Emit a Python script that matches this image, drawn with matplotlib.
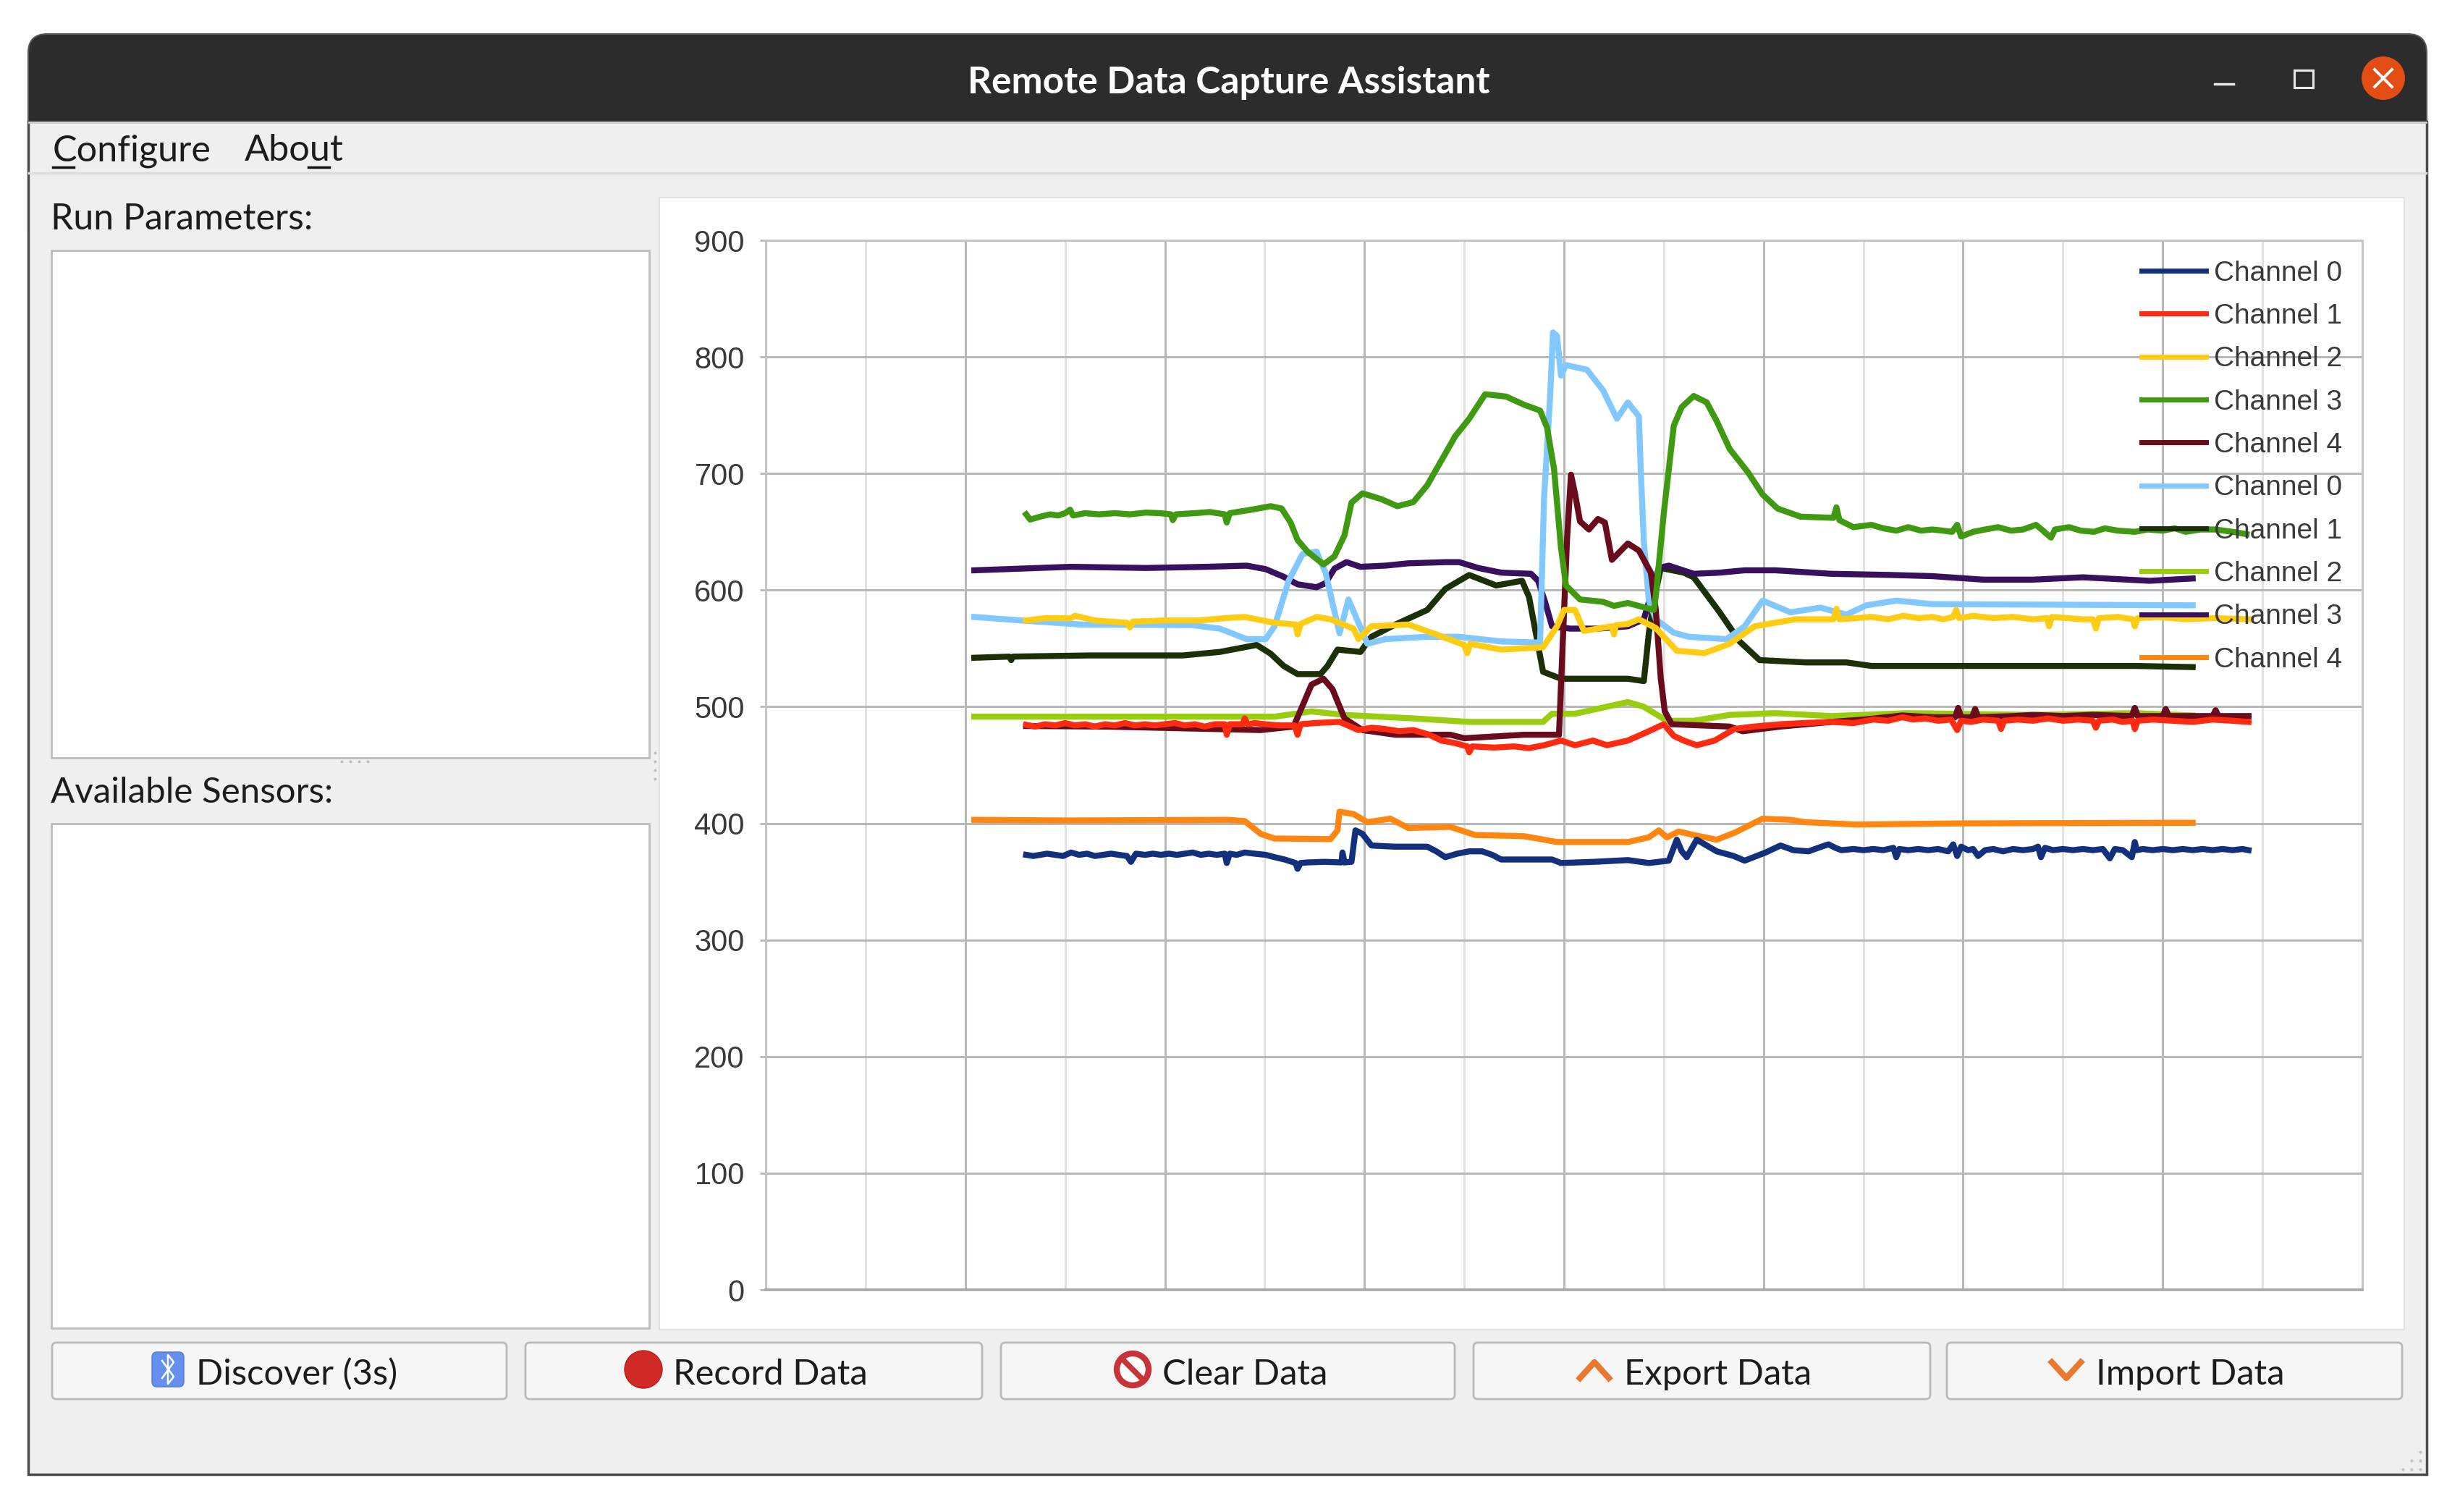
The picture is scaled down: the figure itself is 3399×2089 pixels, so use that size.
import matplotlib
matplotlib.use("Agg")
import matplotlib.pyplot as plt
from matplotlib.patches import Rectangle, FancyBboxPatch, Circle

W, H = 3399, 2089

# chart data, x is in units of the (unlabelled) vertical grid lines
series_labels = ['Channel 0', 'Channel 1', 'Channel 2', 'Channel 3', 'Channel 4',
                 'Channel 0', 'Channel 1', 'Channel 2', 'Channel 3', 'Channel 4']
series_colors = ['#12307c', '#ff2a10', '#ffcc14', '#3f9a12', '#6a0c1c',
                 '#80c8ff', '#1c3008', '#9acd10', '#38105e', '#ff8610']

x_navy = [2.61, 2.68, 2.75, 2.82, 2.9, 2.98, 3.06, 3.14, 3.22, 3.3,
          3.38, 3.46, 3.54, 3.62, 3.66, 3.71, 3.8, 3.88, 3.96, 4.04,
          4.12, 4.2, 4.28, 4.36, 4.44, 4.52, 4.6, 4.62, 4.65, 4.72,
          4.8, 4.9, 5.01, 5.1, 5.2, 5.31, 5.33, 5.36, 5.43, 5.6,
          5.77, 5.78, 5.8, 5.87, 5.91, 5.98, 6.07, 6.3, 6.63, 6.72,
          6.81, 6.93, 7.05, 7.18, 7.28, 7.37, 7.6, 7.88, 7.97, 8.3,
          8.64, 8.85, 9.05, 9.13, 9.18, 9.23, 9.33, 9.53, 9.7, 9.81,
          10.02, 10.17, 10.3, 10.45, 10.58, 10.65, 10.72, 10.78, 10.9, 11.0,
          11.1, 11.2, 11.3, 11.33, 11.36, 11.45, 11.55, 11.65, 11.75, 11.85,
          11.9, 11.94, 11.98, 12.05, 12.1, 12.15, 12.22, 12.3, 12.4, 12.5,
          12.6, 12.7, 12.75, 12.78, 12.82, 12.9, 13.0, 13.1, 13.2, 13.3,
          13.4, 13.47, 13.52, 13.6, 13.69, 13.72, 13.74, 13.8, 13.9, 14.0,
          14.1, 14.2, 14.3, 14.4, 14.5, 14.6, 14.7, 14.8, 14.86]
y_navy = [373, 372, 373, 374, 373, 372, 375, 373, 374, 372,
          373, 374, 373, 372, 367, 374, 373, 374, 373, 374,
          373, 374, 375, 373, 374, 373, 374, 366, 374, 373,
          375, 374, 373, 371, 369, 366, 361, 366, 366.5, 367,
          366.5, 375, 366.5, 367, 394, 391, 381, 380, 380, 376,
          371, 374, 376, 376, 373, 369, 369, 369, 366, 367,
          368.5, 366, 368, 386, 376, 371, 386, 376, 372, 368,
          375, 381, 377, 376, 380, 382, 379, 377, 378, 377,
          378, 377, 379, 371, 378, 377, 378, 377, 378, 376,
          382, 372, 380, 377, 378, 372, 377, 378, 376, 378,
          377, 378, 380, 371, 379, 377, 378, 377, 378, 377,
          378, 370, 378, 377, 371, 384, 377, 378, 377, 378,
          377, 378, 377, 378, 377, 378, 377, 378, 377]

x_red = [2.61, 2.7, 2.8, 2.9, 3.0, 3.1, 3.2, 3.3, 3.4, 3.5,
         3.6, 3.7, 3.8, 3.9, 4.0, 4.1, 4.2, 4.3, 4.4, 4.5,
         4.6, 4.62, 4.65, 4.78, 4.8, 4.83, 4.9, 5.0, 5.15, 5.3,
         5.33, 5.36, 5.5, 5.75, 5.94, 6.07, 6.2, 6.35, 6.49, 6.65,
         6.77, 6.9, 7.03, 7.05, 7.08, 7.3, 7.5, 7.65, 7.8, 7.97,
         8.11, 8.29, 8.43, 8.64, 8.85, 9.0, 9.1, 9.2, 9.33, 9.51,
         9.71, 9.9, 10.17, 10.4, 10.68, 10.9, 11.1, 11.25, 11.39, 11.5,
         11.62, 11.75, 11.88, 11.94, 11.98, 12.08, 12.2, 12.35, 12.38, 12.41,
         12.55, 12.7, 12.85, 13.0, 13.15, 13.3, 13.33, 13.36, 13.5, 13.6,
         13.7, 13.72, 13.75, 13.9, 14.1, 14.3, 14.5, 14.7, 14.86]
y_red = [484.5, 483, 485, 484, 486, 484, 485, 483, 485, 484,
         486, 484, 485, 484, 485, 486, 484, 485, 483, 485,
         485, 476, 485, 485, 490, 485, 486, 485, 484, 484,
         476, 485, 486, 487, 480, 482, 481, 479, 480, 476,
         471, 469, 466, 461, 466, 465, 466, 464.5, 467, 471,
         467, 471, 467, 471, 479, 485, 475, 471, 467, 471,
         481, 483, 485, 486, 487, 486, 489, 488, 491, 489,
         490, 488, 489, 480, 488, 487, 489, 488, 481, 488,
         489, 488, 490, 488, 489, 488, 482, 488, 489, 487,
         488, 481, 488, 489, 488, 487, 489, 488, 487]

x_yellow = [2.61, 2.8, 3.06, 3.1, 3.3, 3.62, 3.65, 3.68, 4.0, 4.36,
            4.6, 4.8, 5.1, 5.31, 5.33, 5.36, 5.52, 5.66, 5.89, 5.94,
            6.07, 6.44, 6.72, 7.0, 7.03, 7.06, 7.37, 7.79, 7.93, 8.0,
            8.11, 8.2, 8.48, 8.5, 8.52, 8.64, 8.75, 8.92, 9.13, 9.41,
            9.66, 9.91, 10.32, 10.7, 10.73, 10.76,
            11.08, 11.25, 11.4, 11.55, 11.69, 11.8, 11.9, 11.93, 11.96, 12.1,
            12.3, 12.5, 12.7, 12.84, 12.86, 12.89, 13.05, 13.2, 13.3, 13.33,
            13.36, 13.55, 13.7, 13.72, 13.75, 13.95, 14.23, 14.5, 14.86]
y_yellow = [574, 576, 576, 578, 574, 572, 568, 573, 574, 574,
            576, 577, 572, 570.5, 562, 571, 577, 575, 567, 558,
            569, 570.5, 562, 553, 546, 554, 549, 551, 569, 583,
            583, 565, 569, 562, 570, 571, 575, 567.5, 548, 546,
            554, 569, 575, 575, 584, 575,
            577, 575, 578, 576, 577, 575, 577, 583, 576, 578,
            576, 577, 575, 576, 569, 577, 576, 575, 575, 567,
            576, 577, 575, 569, 576, 577, 575, 576, 575]

x_green = [2.61, 2.65, 2.75, 2.85, 2.93, 3.0, 3.05, 3.08, 3.2, 3.34,
           3.5, 3.65, 3.81, 3.95, 4.06, 4.08, 4.11, 4.3, 4.45, 4.6,
           4.62, 4.65,
           4.87, 5.06, 5.17, 5.26, 5.33, 5.43, 5.59, 5.7, 5.8, 5.87,
           5.98, 6.17, 6.33, 6.49, 6.63, 6.77, 6.91, 7.05, 7.21, 7.42,
           7.6, 7.76, 7.83, 7.9, 7.97, 8.02, 8.16, 8.39, 8.5, 8.64,
           8.9, 8.92, 9.0, 9.1, 9.18, 9.3, 9.43, 9.53, 9.66, 9.84,
           9.99, 10.14, 10.37, 10.7, 10.73, 10.76, 10.9,
           11.08, 11.2, 11.33, 11.45, 11.58, 11.69, 11.8, 11.89, 11.94, 11.98,
           12.1, 12.22, 12.35, 12.48, 12.6, 12.73, 12.8, 12.88, 12.92, 13.06,
           13.18, 13.31, 13.42, 13.55, 13.72, 13.85, 14.0, 14.12, 14.23, 14.38,
           14.53, 14.7, 14.84]
y_green = [665, 660.5, 663, 665, 664, 666, 669, 664, 666, 665,
           666, 665, 666.5, 666, 665, 660, 665, 666, 667, 665,
           658, 666,
           669, 672, 670, 658, 643, 633, 622, 629, 647, 675,
           683, 678, 672, 675.5, 690, 711, 732, 747, 768, 766,
           759, 754, 739.5, 704, 636, 604, 592, 590, 586.5, 589,
           583, 595, 666, 741, 757, 766.5, 761, 745, 721, 701.5,
           682, 670, 663, 662, 671, 660, 654,
           656, 653, 651, 654, 651, 652, 651, 650, 656, 646,
           650, 652, 654, 651, 652, 656, 651, 645, 652, 654,
           651, 650, 653, 651, 650, 652, 651, 653, 650, 652,
           652, 650, 648]

x_maroon = [2.61, 3.4, 4.96, 5.29, 5.38, 5.47, 5.59, 5.68, 5.8, 5.98,
            6.31, 6.86, 7.0, 7.6, 7.95, 7.97, 8.03, 8.07, 8.11, 8.16,
            8.25, 8.34, 8.41, 8.48, 8.64, 8.75, 8.87, 8.92, 8.97, 9.01,
            9.08, 9.66, 9.79, 10.17, 10.68, 11.0, 11.39, 11.7, 11.92, 11.95,
            11.98, 12.09, 12.12, 12.15, 12.5, 12.7, 13.0, 13.3, 13.69, 13.72,
            13.75, 14.0, 14.03, 14.06, 14.5, 14.53, 14.56, 14.86]
y_maroon = [483.5, 483, 480, 483, 501, 519, 524, 515, 490, 480,
            476, 476, 473, 476, 476, 519, 643, 699, 683, 659,
            652, 661, 658, 626, 640, 634, 615, 583, 524, 496,
            485, 483, 479, 483, 487, 489, 492.5, 491, 491, 499,
            491, 491, 498, 491, 492, 493, 492, 493, 492, 499,
            492, 492, 498, 492, 492, 497, 492, 492]

x_sky = [2.09, 2.56, 3.16, 4.27, 4.55, 4.82, 5.01, 5.1, 5.24, 5.38, 5.52, 5.61, 5.75, 5.84, 6.03, 6.21, 6.63, 6.95, 7.37, 7.76, 7.8, 7.86, 7.89, 7.93, 7.97, 8.02, 8.23, 8.39, 8.53, 8.64, 8.75, 8.77, 8.8, 8.85, 8.92, 9.1, 9.25, 9.63, 9.81, 9.99, 10.27, 10.57, 10.83, 11.03, 11.33, 11.69, 14.3]
y_sky = [577, 574, 570.5, 570, 567, 558, 558, 569, 608, 631, 633, 615, 563, 592, 554, 558, 560, 560, 556, 555, 679, 764.5, 821, 818, 784, 793, 789, 771.5, 747, 761, 749, 701, 642, 591, 575, 563.5, 560, 558, 569, 591, 581, 585, 579, 587, 591, 588, 587]

x_black = [2.09, 2.44, 2.46, 2.48, 3.25, 4.18, 4.55, 4.92, 5.06, 5.19, 5.33, 5.56, 5.63, 5.73, 5.96, 6.07, 6.31, 6.63, 6.81, 7.05, 7.32, 7.58, 7.65, 7.72, 7.79, 7.97, 8.34, 8.64, 8.8, 8.85, 8.9, 8.97, 9.2, 9.3, 9.56, 9.76, 9.96, 10.42, 10.83, 11.08, 12.2, 13.72, 14.3]
y_black = [542, 543, 540, 543, 544, 544, 547, 553, 545.5, 535, 528, 528, 535, 549, 547, 560, 570.5, 583, 601, 613, 604, 608, 594, 562, 530, 524, 524, 524, 522, 563, 591, 619, 615, 611, 581, 556, 540, 538, 538, 535, 535, 535, 534]

x_lime = [2.09, 3.25, 5.1, 5.47, 5.8, 6.49, 7.05, 7.79, 7.88, 8.11, 8.64, 8.8, 9.03, 9.3, 9.66, 10.12, 10.68, 11.44, 12.7, 13.72, 14.3]
y_lime = [491.5, 491.5, 491.5, 496, 493, 490, 487, 487, 494, 494, 504, 500, 488, 488, 493, 494.5, 492, 494.5, 493, 494.5, 492.5]

x_purple = [2.09, 2.41, 3.06, 3.81, 4.41, 4.82, 5.01, 5.19, 5.33, 5.52, 5.61, 5.7, 5.82, 5.96, 6.21, 6.44, 6.81, 6.95, 7.14, 7.37, 7.67, 7.74, 7.81, 7.88, 8.06, 8.34, 8.64, 8.8, 8.95, 9.05, 9.3, 9.56, 9.81, 10.12, 10.68, 11.28, 11.69, 12.2, 12.7, 13.2, 13.87, 14.3]
y_purple = [617, 618, 620, 619, 620, 621, 618, 611.5, 605, 602.5, 606, 618.5, 624, 620, 621, 623, 624, 624, 619, 615, 614, 608, 590, 569, 567, 567, 569, 575, 619, 621, 614, 615, 617, 617, 614, 613, 612, 609, 609, 611, 608, 610]

x_orange = [2.09, 3.02, 4.64, 4.8, 4.96, 5.1, 5.66, 5.73, 5.75, 5.89, 6.03, 6.26, 6.44, 6.86, 7.11, 7.6, 7.93, 8.64, 8.85, 8.95, 9.03, 9.15, 9.3, 9.53, 9.71, 9.99, 10.27, 10.42, 10.93, 12.0, 14.3]
y_orange = [403, 402.5, 403, 402, 391, 387, 386.5, 394, 410, 408, 401, 404, 396, 397, 390, 389, 384, 384, 388, 394, 388, 393, 390, 386, 392, 404, 403, 401, 399, 400, 400.5]

y_ticks = [0, 100, 200, 300, 400, 500, 600, 700, 800, 900]

button_labels = ['Discover (3s)', 'Record Data', 'Clear Data', 'Export Data', 'Import Data']

plt.rcParams['font.family'] = ['Lato', 'DejaVu Sans']
fig = plt.figure(figsize=(W / 100, H / 100), dpi=100, facecolor='white')

# window chrome is drawn in pixel coordinates on a full size axes
bg = fig.add_axes([0, 0, 1, 1], zorder=0)
bg.set_xlim(0, W)
bg.set_ylim(H, 0)
bg.axis('off')

bg.add_patch(FancyBboxPatch((39, 47), 3314, 300, boxstyle='round,pad=0,rounding_size=26',
                            fc='#2c2c2c', ec='#555555', lw=1.5, mutation_aspect=1))
bg.add_patch(Rectangle((39, 168), 3314, 1869, fc='#efefef', ec='#4a4a4a', lw=2.5))
bg.plot([40, 3352], [169, 169], color='#cfcfcf', lw=2)
bg.plot([40, 3352], [239, 239], color='#dcdcdc', lw=2.5)

bg.text(1698, 114, 'Remote Data Capture Assistant', color='white', fontsize=37, fontweight='bold', ha='center', va='center')
bg.plot([3060, 3086], [116, 116], color='#e8e8e8', lw=2.5)
bg.add_patch(Rectangle((3170, 97), 26, 24, fc='none', ec='#e8e8e8', lw=2.2))
bg.add_patch(Circle((3293, 108), 30, fc='#e34c12', ec='none'))
bg.plot([3281, 3305], [96, 120], color='white', lw=2.8)
bg.plot([3281, 3305], [120, 96], color='white', lw=2.8)

bg.text(73, 222, 'Configure', color='#1c1c1c', fontsize=36.3, va='baseline')
bg.text(338, 222, 'About', color='#1c1c1c', fontsize=36.3, va='baseline')
bg.plot([73, 102], [231, 231], color='#111111', lw=2.5)
bg.plot([426, 455], [231, 231], color='#111111', lw=2.5)

bg.text(70, 317, 'Run Parameters:', color='#1c1c1c', fontsize=36, va='baseline')
bg.text(70, 1109, 'Available Sensors:', color='#1c1c1c', fontsize=35.5, va='baseline')
bg.add_patch(Rectangle((71, 346), 826, 701, fc='white', ec='#bdbdbd', lw=2))
bg.add_patch(Rectangle((71, 1138), 826, 697, fc='white', ec='#bdbdbd', lw=2))
bg.add_patch(Rectangle((911, 273), 2411, 1564, fc='white', ec='#e2e2e2', lw=1.5))

# buttons
button_lefts = [72, 726, 1383, 2036, 2690]
button_rights = [700, 1357, 2010, 2667, 3319]
text_lefts = [271, 930, 1606, 2244, 2896]
for left, right, tx, label in zip(button_lefts, button_rights, text_lefts, button_labels):
    bg.add_patch(FancyBboxPatch((left, 1855), right - left, 78, boxstyle='round,pad=0,rounding_size=6',
                                fc='#f6f6f6', ec='#b9b9b9', lw=2))
    bg.text(tx, 1913, label, color='#1c1c1c', fontsize=35.3, va='baseline')

bg.add_patch(FancyBboxPatch((210, 1868), 44, 48, boxstyle='round,pad=0,rounding_size=7', fc='#6690ee', ec='#4d78d8', lw=1))
bg.plot([224, 240, 232, 232, 240, 224], [1880, 1902, 1912, 1872, 1882, 1904], color='white', lw=1.8)
bg.add_patch(Circle((889, 1892), 26, fc='#d12a26', ec='#b01f1f', lw=1))
bg.add_patch(Circle((1565, 1892), 22, fc='white', ec='#c8333a', lw=6))
bg.plot([1550, 1580], [1877, 1907], color='#c8333a', lw=5.5)
bg.plot([2183, 2203, 2223], [1904, 1882, 1904], color='#e8792e', lw=6)
bg.plot([2835, 2855, 2875], [1882, 1904, 1882], color='#e8792e', lw=6)

# small grips
bg.scatter([472, 484, 496, 508], [1052] * 4, s=3, color='#bbbbbb')
bg.scatter([905] * 4, [1040, 1052, 1064, 1076], s=3, color='#bbbbbb')
bg.scatter([3320, 3332, 3344, 3332, 3344, 3344], [2030, 2030, 2030, 2018, 2018, 2006], s=4, color='#c4c4c4')

# chart itself
ax = fig.add_axes([1058 / W, 1 - 1782 / H, 2206 / W, 1450 / H], zorder=1)
ax.set_xlim(0, 16)
ax.set_ylim(0, 900)
ax.set_yticks(y_ticks)
ax.set_xticks(range(0, 17, 2))
ax.set_xticks(range(1, 17, 2), minor=True)
ax.set_xticklabels([])
ax.grid(True, which='major', color='#b8b8b8', lw=2.2)
ax.grid(True, which='minor', axis='x', color='#e2e2e2', lw=2.2)
ax.set_axisbelow(True)
ax.tick_params(axis='x', which='both', length=0)
ax.tick_params(axis='y', length=6, width=2, color='#b8b8b8', pad=15, labelsize=30, labelcolor='#3a3a3a')
for label in ax.get_yticklabels():
    label.set_family('Liberation Sans')
for side in ['top', 'right', 'left']:
    ax.spines[side].set_color('#c4c4c4')
    ax.spines[side].set_linewidth(2)
ax.spines['bottom'].set_color('#a8a8a8')
ax.spines['bottom'].set_linewidth(2.6)

xs = [x_navy, x_red, x_yellow, x_green, x_maroon, x_sky, x_black, x_lime, x_purple, x_orange]
ys = [y_navy, y_red, y_yellow, y_green, y_maroon, y_sky, y_black, y_lime, y_purple, y_orange]
zorders = [12, 12, 11, 10, 9, 6, 5, 4, 5, 4]
lines = []
for i in range(10):
    line, = ax.plot(xs[i], ys[i], color=series_colors[i], lw=6, zorder=zorders[i],
                    solid_joinstyle='round', label=series_labels[i])
    lines.append(line)

leg = ax.legend(handles=lines, frameon=False, loc='upper right', bbox_to_anchor=(0.9875, 0.981),
                prop={'family': 'Liberation Sans', 'size': 28}, labelcolor='#3a3a3a',
                borderpad=0, borderaxespad=0, handlelength=2.3, handletextpad=0.28, labelspacing=0.6)
leg.set_zorder(20)
for h in leg.get_lines():
    h.set_linewidth(5)

fig.savefig('out.png', dpi=100)
